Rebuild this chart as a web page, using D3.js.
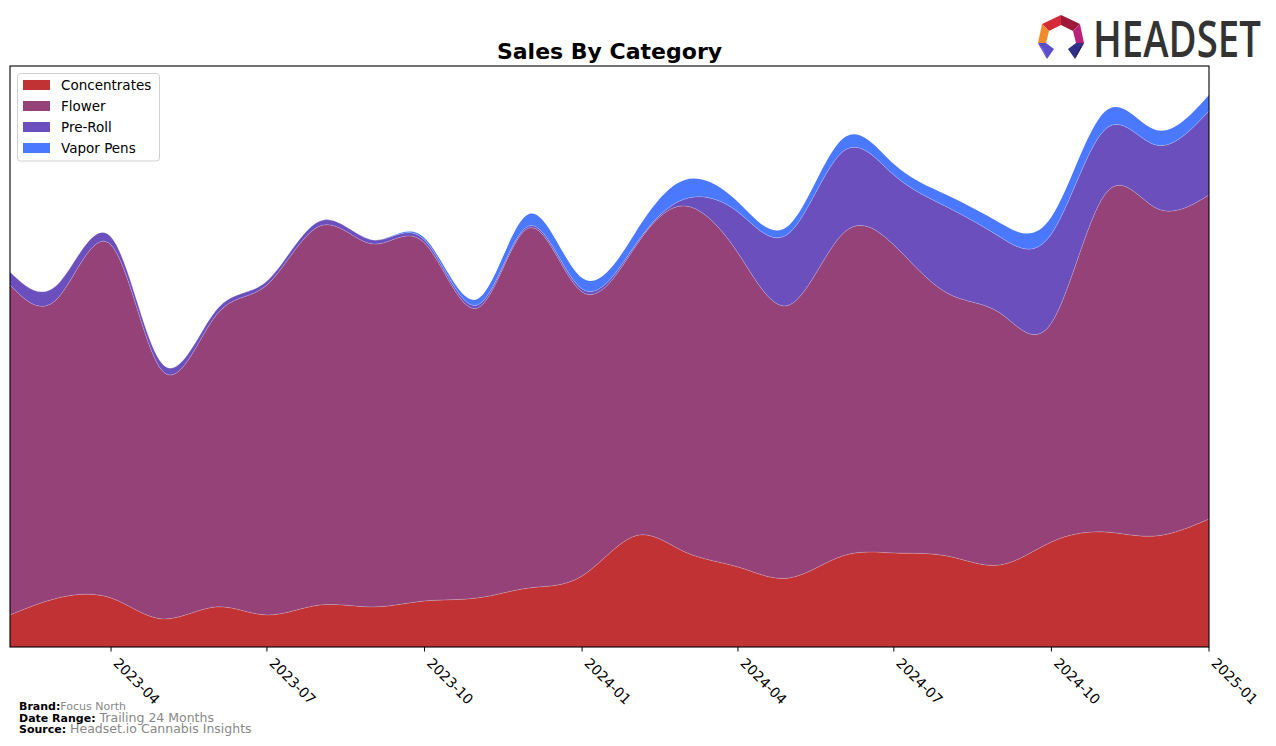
<!DOCTYPE html>
<html>
<head>
<meta charset="utf-8">
<script src="https://cdn.jsdelivr.net/npm/d3@7"></script>
<style>
  html, body { margin: 0; padding: 0; background: #fff; }
  svg { display: block; }
</style>
</head>
<body>
<svg id="chart" width="1276" height="746"></svg>
<script>
// ---- data ----
const months = ["2023-02","2023-03","2023-04","2023-05","2023-06","2023-07","2023-08","2023-09","2023-10","2023-11","2023-12",
  "2024-01","2024-02","2024-03","2024-04","2024-05","2024-06","2024-07","2024-08","2024-09","2024-10","2024-11","2024-12","2025-01"];
const categories = ["Concentrates", "Flower", "Pre-Roll", "Vapor Pens"];
const concentrates = [32,49,49,28,40,32,42,40,46,49,59,71,111,95,80,69,91,94,91,82,105,115,111,128];
const flower       = [330,300,353,248,291,330,379,363,358,290,360,284,289,346,314,273,322,308,263,252,219,337,328,324];
const preRoll      = [13,14,8,7,5,4,5,4,3,3,2,3,2,7,41,72,82,70,86,76,89,65,63,84];
const vaporPens    = [0,0,0,0,0,0,0,0,2,6,12,11,12,19,10,8,13,11,12,14,17,18,15,16];
const colors = ["#c03233", "#954278", "#6a4fbd", "#4a78ff"];
const footer = [["Brand:", "Focus North", "", 11], ["Date Range:", "Trailing 24 Months", " ", 12.5], ["Source:", "Headset.io Cannabis Insights", " ", 12.5]];

const parse = d3.utcParse("%Y-%m");
const rows = months.map((m, i) => ({
  date: parse(m),
  "Concentrates": concentrates[i],
  "Flower": flower[i],
  "Pre-Roll": preRoll[i],
  "Vapor Pens": vaporPens[i]
}));

const svg = d3.select("#chart");
const L = 10, R = 1209, T = 66, B = 647;

const x = d3.scaleUtc().domain(d3.extent(rows, d => d.date)).range([L, R]);
const stack = d3.stack().keys(categories);
const series = stack(rows);
const maxTotal = d3.max(series[series.length - 1], d => d[1]);
const y = d3.scaleLinear().domain([0, maxTotal * 1.0525]).range([B, T]);

svg.append("defs").append("clipPath").attr("id", "clip")
  .append("rect").attr("x", L).attr("y", T).attr("width", R - L).attr("height", B - T);

const area = d3.area()
  .x(d => x(d.data.date))
  .y0(d => y(d[0]))
  .y1(d => y(d[1]))
  .curve(d3.curveNatural);

const line = d3.line()
  .x(d => x(d.data.date))
  .y(d => y(d[1]))
  .curve(d3.curveNatural);

const g = svg.append("g").attr("clip-path", "url(#clip)");
g.selectAll("path.area").data(series).join("path")
  .attr("class", "area")
  .attr("d", area)
  .attr("fill", (d, i) => colors[i]);
g.selectAll("path.edge").data(series.slice(0, 3)).join("path")
  .attr("class", "edge")
  .attr("d", line)
  .attr("fill", "none")
  .attr("stroke", "rgba(255,255,255,0.28)")
  .attr("stroke-width", 0.8);

// frame
svg.append("rect").attr("x", L).attr("y", T).attr("width", R - L).attr("height", B - T)
  .attr("fill", "none").attr("stroke", "#000").attr("stroke-width", 1.1);

// x axis
const ticks = x.ticks(d3.utcMonth.every(3));
const fmt = d3.utcFormat("%Y-%m");
const ax = svg.append("g");
ax.selectAll("line").data(ticks).join("line")
  .attr("x1", d => x(d)).attr("x2", d => x(d))
  .attr("y1", B).attr("y2", B + 4.5)
  .attr("stroke", "#000").attr("stroke-width", 1);
ax.selectAll("text").data(ticks).join("text")
  .attr("transform", d => `translate(${x(d) + 1.5},${B + 17}) rotate(45)`)
  .attr("text-anchor", "start")
  .attr("font-family", "DejaVu Sans")
  .attr("font-size", 14)
  .attr("fill", "#000")
  .text(d => fmt(d));

// title
svg.append("text").attr("x", (L + R) / 2).attr("y", 59)
  .attr("text-anchor", "middle")
  .attr("font-family", "DejaVu Sans").attr("font-weight", "bold")
  .attr("font-size", 22).attr("fill", "#000")
  .text("Sales By Category");

// legend
const lg = svg.append("g");
lg.append("rect").attr("x", 17.5).attr("y", 73.5).attr("width", 142).attr("height", 87.5)
  .attr("rx", 3).attr("fill", "#fff").attr("fill-opacity", 0.8)
  .attr("stroke", "#d0d0d0").attr("stroke-width", 1);
categories.forEach((c, i) => {
  const cy = 85 + i * 21;
  lg.append("rect").attr("x", 23).attr("y", cy - 5).attr("width", 27).attr("height", 10)
    .attr("fill", colors[i]);
  lg.append("text").attr("x", 61).attr("y", cy + 5)
    .attr("font-family", "DejaVu Sans").attr("font-size", 13.5).attr("fill", "#000")
    .text(c);
});

// footer
footer.forEach((f, i) => {
  const t = svg.append("text").attr("x", 19).attr("y", 710 + i * 11.5)
    .attr("font-family", "DejaVu Sans");
  t.append("tspan").attr("font-weight", "bold").attr("font-size", 11).attr("fill", "#000").text(f[0]);
  t.append("tspan").attr("font-size", f[3]).attr("fill", "#888").text(f[2] + f[1]);
});

// logo
const logo = svg.append("g");
const polys = [
  {p: [[1061,15],[1042,24],[1049,31],[1061,25]], c: "#d42a3a"},
  {p: [[1061,15],[1080,24],[1073,31],[1061,25]], c: "#9e1838"},
  {p: [[1042,24],[1038,43],[1046,43],[1049,31]], c: "#f08a2a"},
  {p: [[1080,24],[1084,43],[1076,43],[1073,31]], c: "#b8207a"},
  {p: [[1038,43],[1046,43],[1054,49],[1047,59]], c: "#5a4fc8"},
  {p: [[1084,43],[1076,43],[1068,49],[1075,59]], c: "#2f2f86"},
  {p: [[1038,43],[1047,59],[1044,50]], c: "#7a6ae0"},
  {p: [[1084,43],[1075,59],[1078,50]], c: "#23236a"}
];
polys.forEach(o => logo.append("polygon").attr("points", o.p.map(q => q.join(",")).join(" ")).attr("fill", o.c));
logo.append("text")
  .attr("transform", "translate(1093,57) scale(0.752,1)")
  .attr("font-family", "Open Sans").attr("font-weight", 600).attr("font-size", 51).attr("fill", "#333")
  .text("HEADSET");
</script>
</body>
</html>
